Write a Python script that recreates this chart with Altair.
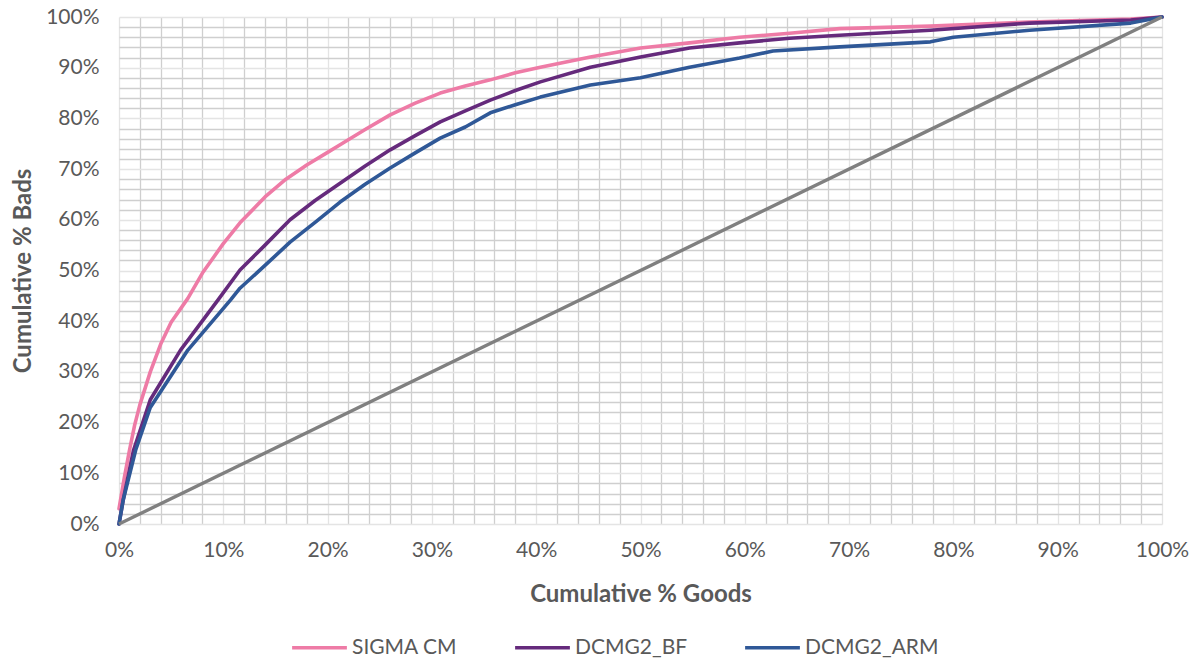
import altair as alt
import pandas as pd

# Cumulative % Goods (x) and Cumulative % Bads (y) for each model
sigma_x = [0, 0.5, 1, 1.5, 2, 3, 4, 5, 6.6, 8, 10, 11.6, 14, 16, 18, 20, 21.2, 23.6, 26, 28.4, 30.8,
           33.2, 35.6, 38, 40.4, 45.2, 50, 54.7, 59.5, 64.3, 69.1, 77.8, 87.3, 97, 100]
sigma_y = [3, 9, 14.5, 19.5, 23.5, 30, 35.5, 39.8, 44.5, 49.5, 55.3, 59.4, 64.5, 68, 70.8, 73.3, 74.8,
           77.8, 80.7, 83, 85, 86.4, 87.6, 89, 90.1, 92.1, 93.9, 94.9, 96, 96.8, 97.7, 98.2, 99, 99.6, 100]

bf_x = [0, 0.4, 1.4, 3, 5.9, 9.5, 11.6, 14, 16.4, 18.8, 21.2, 23.6, 26, 28.4, 30.8, 33.2, 35.6, 38,
        40.4, 45.2, 50, 54.7, 59.5, 64.3, 69.1, 77.8, 87.3, 97, 100]
bf_y = [0, 4.7, 14.6, 24.5, 34.3, 44.2, 50.1, 55, 60, 63.8, 67.2, 70.6, 73.8, 76.6, 79.3, 81.5, 83.6,
        85.5, 87.2, 90.1, 92.1, 93.9, 94.9, 95.8, 96.4, 97.4, 98.8, 99.4, 100]

arm_x = [0, 0.4, 1.6, 3, 6.6, 10.7, 11.6, 14, 16.4, 18.8, 21.2, 23.6, 26, 28.4, 30.8, 33.2, 35.6, 38,
         40.4, 45.2, 50, 54.7, 59.5, 62.7, 69.1, 77.8, 80, 87.3, 97, 100]
arm_y = [0, 4.7, 14.6, 23, 34.3, 44.2, 46.5, 51, 55.6, 59.5, 63.5, 67, 70.2, 73.2, 76.1, 78.3, 81.1,
         82.7, 84.2, 86.6, 88, 90.1, 91.9, 93.3, 94.1, 95.1, 96, 97.4, 98.8, 100]

diag_x = [0, 100]
diag_y = [0, 100]

series_names = ["SIGMA CM", "DCMG2_BF", "DCMG2_ARM"]
series_colors = ["#EE7BA6", "#652A7C", "#2F5897"]

rows = []
for name, xs, ys in [("SIGMA CM", sigma_x, sigma_y), ("DCMG2_BF", bf_x, bf_y), ("DCMG2_ARM", arm_x, arm_y)]:
    for i, (a, b) in enumerate(zip(xs, ys)):
        rows.append({"series": name, "goods": a, "bads": b, "i": i})
df = pd.DataFrame(rows)
ddf = pd.DataFrame({"goods": diag_x, "bads": diag_y})

FONT = "Lato"
ticks = list(range(0, 101, 2))
grid_color = {"condition": {"test": "datum.value % 10 == 0", "value": "#e4e4e4"}, "value": "#cfcfcf"}

common_axis = dict(values=ticks, tickCount=len(ticks),
                   labelExpr="datum.value % 10 == 0 ? datum.value + '%' : ''",
                   grid=True, gridColor=grid_color, gridWidth=1.3,
                   tickSize=0, domain=False, labelOverlap=False,
                   labelFontSize=21, titleFontSize=24, labelColor="#595959",
                   titleColor="#595959", labelFont=FONT, titleFont=FONT,
                   titleFontWeight="bold", labelFlush=False)

x_enc = alt.X("goods:Q", scale=alt.Scale(domain=[0, 100], nice=False),
              axis=alt.Axis(title="Cumulative % Goods", labelPadding=15, titlePadding=22,
                            **common_axis))
y_enc = alt.Y("bads:Q", scale=alt.Scale(domain=[0, 100], nice=False),
              axis=alt.Axis(title="Cumulative % Bads", labelPadding=20, titlePadding=10,
                            **common_axis))

lines = alt.Chart(df).mark_line(strokeWidth=3.6, strokeCap="round", strokeJoin="round").encode(
    x=x_enc, y=y_enc,
    color=alt.Color("series:N", scale=alt.Scale(domain=series_names, range=series_colors),
                    legend=alt.Legend(title=None, orient="none", direction="horizontal",
                                      legendX=171, legendY=601, symbolType="stroke",
                                      symbolStrokeWidth=3.6, symbolSize=3000,
                                      labelFontSize=21, labelFont=FONT, labelColor="#595959",
                                      columnPadding=49, labelOffset=3)),
    order="i:Q",
)

diag = alt.Chart(ddf).mark_line(strokeWidth=3.4, color="#808080").encode(x="goods:Q", y="bads:Q")

chart = alt.layer(lines, diag).properties(
    width=1043, height=507,
    padding={"left": 119, "top": 17, "right": 28, "bottom": 135},
    autosize=alt.AutoSizeParams(type="none"),
    background="white",
).configure_view(stroke=None)

chart.save("out.html", embed_options={"renderer": "svg", "actions": False})
